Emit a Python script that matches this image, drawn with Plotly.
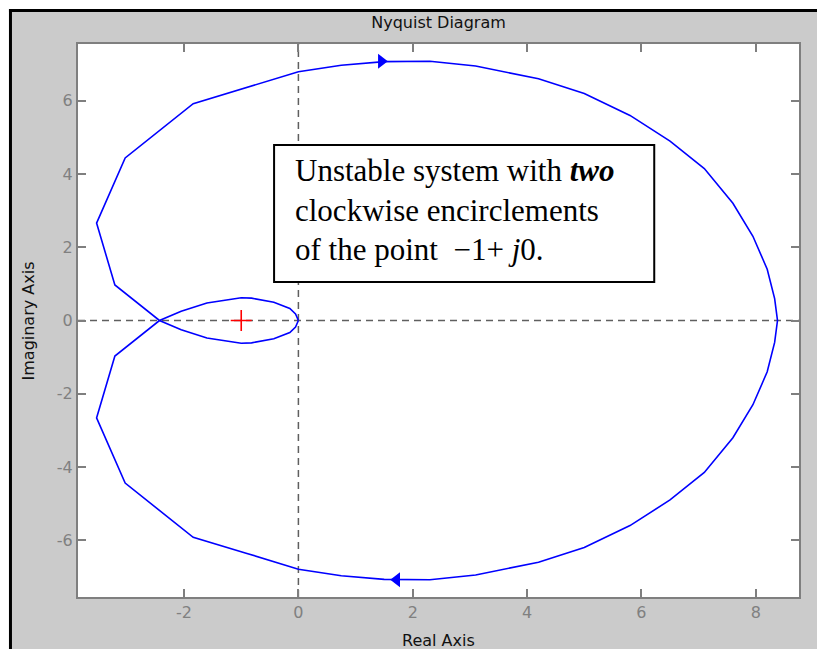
import plotly.graph_objects as go

# Nyquist locus, positive-frequency branch, from the
# small-loop tip through the left lobe and over the top to the real-axis crossing.
re_pos = [0.0, -0.05, -0.15, -0.43, -0.82, -1.0, -1.6, -2.05, -2.43,
          -3.21, -3.53, -3.03, -1.84, -0.9, 0.0, 0.75, 1.5, 2.3,
          3.1, 4.2, 5.0, 5.8, 6.5, 7.1, 7.6, 7.95, 8.2, 8.33, 8.38]
im_pos = [0.0, -0.18, -0.33, -0.50, -0.61, -0.62, -0.48, -0.25, 0.0,
          0.97, 2.66, 4.44, 5.92, 6.36, 6.79, 6.97, 7.07, 7.08,
          6.95, 6.6, 6.2, 5.6, 4.9, 4.15, 3.2, 2.3, 1.4, 0.6, 0.0]

# Negative-frequency branch is the complex conjugate of the positive one
re_neg = list(reversed(re_pos))
im_neg = [-v for v in reversed(im_pos)]

# Direction arrows on the locus
arrow_re = [1.45, 1.72]
arrow_im = [7.08, -7.08]
arrow_symbols = ["triangle-right", "triangle-left"]

# Critical point
crit_re = [-1.0]
crit_im = [0.0]

x_ticks = [-2, 0, 2, 4, 6, 8]
x_tick_text = ["-2", "0", "2", "4", "6", "8"]
y_ticks = [-6, -4, -2, 0, 2, 4, 6]
y_tick_text = ["-6", "-4", "-2", "0", "2", "4", "6"]

x_range = [-3.855, 8.756]
y_range = [-7.55, 7.55]

note_lines = [
    "Unstable system with <b><i>two</i></b>",
    "clockwise encirclements",
    "of the point \u00a0\u22121+ <i>j</i>0.",
]

W, H = 817, 649
PL, PR, PT, PB = 78, 798.7, 44, 597


def fx(px):
    return (px - PL) / (PR - PL)


def fy(py):
    return (PB - py) / (PB - PT)


BLUE = "#0000ff"
AXIS_GRAY = "#7f7f7f"
UI_FONT = "DejaVu Sans"
SERIF = "Liberation Serif, Times New Roman, serif"

fig = go.Figure()

# zero reference lines
fig.add_trace(go.Scatter(x=[x_range[0], x_range[1]], y=[0, 0], mode="lines",
                         line=dict(color="#5f5f5f", width=1.5, dash="7px,5px"),
                         hoverinfo="skip", showlegend=False))
fig.add_trace(go.Scatter(x=[0, 0], y=[y_range[0], y_range[1]], mode="lines",
                         line=dict(color="#5f5f5f", width=1.5, dash="7px,5px"),
                         hoverinfo="skip", showlegend=False))

# locus
fig.add_trace(go.Scatter(x=re_pos + re_neg[1:], y=im_pos + im_neg[1:], mode="lines",
                         line=dict(color=BLUE, width=1.6), showlegend=False))

# arrows
for xa, ya, sym in zip(arrow_re, arrow_im, arrow_symbols):
    fig.add_trace(go.Scatter(x=[xa], y=[ya], mode="markers",
                             marker=dict(symbol=sym, size=13, color=BLUE,
                                         line=dict(width=0)),
                             showlegend=False))

# -1 + j0 marker
fig.add_trace(go.Scatter(x=crit_re, y=crit_im, mode="markers",
                         marker=dict(symbol="cross-thin", size=15,
                                     line=dict(color="#ff0000", width=1.6)),
                         showlegend=False))

shapes = [
    # white margin outside the figure frame
    dict(type="rect", xref="paper", yref="paper", x0=fx(-5), x1=fx(W + 5),
         y0=fy(9), y1=fy(-5), fillcolor="white", line=dict(width=0), layer="above"),
    dict(type="rect", xref="paper", yref="paper", x0=fx(-5), x1=fx(9),
         y0=fy(H + 5), y1=fy(-5), fillcolor="white", line=dict(width=0), layer="above"),
    # black frame
    dict(type="line", xref="paper", yref="paper", x0=fx(9), x1=fx(W + 5),
         y0=fy(10.5), y1=fy(10.5), line=dict(color="black", width=3), layer="above"),
    dict(type="line", xref="paper", yref="paper", x0=fx(10.5), x1=fx(10.5),
         y0=fy(9), y1=fy(H + 5), line=dict(color="black", width=3), layer="above"),
    # note box
    dict(type="rect", xref="paper", yref="paper", x0=fx(274), x1=fx(654),
         y0=fy(282), y1=fy(145), fillcolor="white",
         line=dict(color="black", width=2), layer="above"),
]

annotations = []
for i, line in enumerate(note_lines):
    annotations.append(dict(text=line, xref="paper", yref="paper",
                            x=fx(293), y=fy(170 + 40 * i), xanchor="left", yanchor="middle",
                            showarrow=False,
                            font=dict(family=SERIF, size=31, color="black")))

annotations.append(dict(text="Real Axis", xref="paper", yref="paper",
                        x=0.5, y=fy(640), xanchor="center", yanchor="middle",
                        showarrow=False, font=dict(family=UI_FONT, size=16, color="#111111")))
annotations.append(dict(text="Imaginary Axis", xref="paper", yref="paper",
                        x=fx(29), y=0.5, xanchor="center", yanchor="middle", textangle=-90,
                        showarrow=False, font=dict(family=UI_FONT, size=16, color="#111111")))

axis_common = dict(showgrid=False, zeroline=False, showline=True, linecolor=AXIS_GRAY,
                   linewidth=2, mirror="ticks", ticks="inside", ticklen=8, tickwidth=1.5,
                   tickcolor=AXIS_GRAY, tickfont=dict(family=UI_FONT, size=16, color="#808080"))

fig.update_layout(
    width=W, height=H, autosize=False,
    margin=dict(l=PL, r=W - PR, t=PT, b=H - PB, pad=0),
    paper_bgcolor="#cbcbcb", plot_bgcolor="white",
    title=dict(text="Nyquist Diagram", x=0.5, xref="paper", y=1 - 22 / H, yref="container",
               xanchor="center", yanchor="middle",
               font=dict(family=UI_FONT, size=16, color="#111111")),
    xaxis=dict(range=x_range, tickvals=x_ticks, ticktext=x_tick_text, **axis_common),
    yaxis=dict(range=y_range, tickvals=y_ticks, ticktext=y_tick_text, **axis_common),
    shapes=shapes, annotations=annotations, showlegend=False,
)

fig.write_html("out.html")
